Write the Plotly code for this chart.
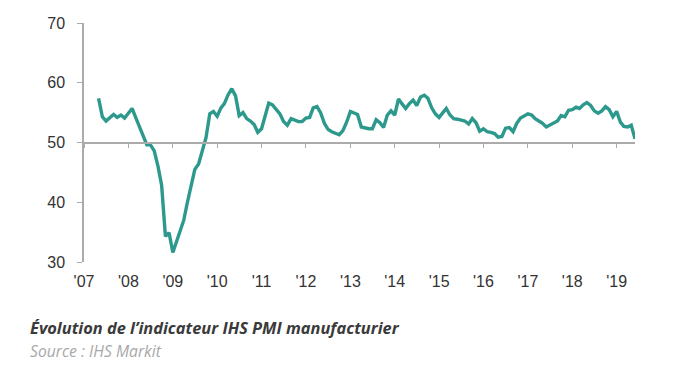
import pandas as pd
import plotly.graph_objects as go

# Monthly PMI values, May 2007 - June 2019
start_month = "2007-05-01"
pmi_2007 = [57.4, 54.3, 53.6, 54.1, 54.7, 54.2, 54.6, 54.1]
pmi_2008 = [54.8, 55.7, 54.2, 52.6, 51.4, 49.6, 49.6, 48.6, 46.0, 42.8, 34.3, 34.9]
pmi_2009 = [31.6, 33.5, 35.3, 37.0, 40.0, 42.8, 45.5, 46.4, 48.6, 50.8, 54.8, 55.2]
pmi_2010 = [54.4, 55.8, 56.5, 58.0, 59.0, 57.8, 54.5, 55.0, 54.0, 53.6, 53.0, 51.7]
pmi_2011 = [52.3, 54.6, 56.6, 56.3, 55.6, 54.8, 53.5, 52.9, 54.0, 53.8, 53.5, 53.5]
pmi_2012 = [54.1, 54.2, 55.8, 56.0, 55.0, 53.2, 52.2, 51.8, 51.5, 51.3, 52.0, 53.4]
pmi_2013 = [55.2, 55.0, 54.7, 52.6, 52.4, 52.3, 52.3, 53.8, 53.3, 52.5, 54.6, 55.3]
pmi_2014 = [54.6, 57.3, 56.5, 55.7, 56.5, 57.1, 56.2, 57.6, 57.9, 57.4, 55.8, 54.8]
pmi_2015 = [54.2, 55.0, 55.7, 54.6, 54.0, 53.9, 53.8, 53.6, 53.1, 54.0, 53.3, 51.9]
pmi_2016 = [52.3, 51.8, 51.7, 51.5, 50.9, 51.0, 52.4, 52.5, 51.8, 53.2, 54.1, 54.4]
pmi_2017 = [54.8, 54.6, 54.0, 53.6, 53.2, 52.6, 52.9, 53.2, 53.6, 54.5, 54.3, 55.4]
pmi_2018 = [55.5, 55.9, 55.7, 56.3, 56.7, 56.2, 55.3, 54.9, 55.3, 56.0, 55.5, 54.3]
pmi_2019 = [55.2, 53.4, 52.7, 52.6, 52.9, 50.6]

years = list(range(2007, 2020))
tick_labels = ["'07", "'08", "'09", "'10", "'11", "'12", "'13", "'14", "'15",
               "'16", "'17", "'18", "'19"]
y_ticks = [30, 40, 50, 60, 70]

title_text = "Évolution de l’indicateur IHS PMI manufacturier"
source_text = "Source : IHS Markit"

values = (pmi_2007 + pmi_2008 + pmi_2009 + pmi_2010 + pmi_2011 + pmi_2012 +
          pmi_2013 + pmi_2014 + pmi_2015 + pmi_2016 + pmi_2017 + pmi_2018 + pmi_2019)
dates = pd.date_range(start_month, periods=len(values), freq="MS")
tick_dates = [f"{y}-01-01" for y in years]
x_range = ["2007-01-01", str(dates[-1].date())]

TEAL = "#2c998c"
AXIS = "#ababab"
LABEL = "#333333"

fig = go.Figure()
fig.add_trace(go.Scatter(x=dates, y=values, mode="lines",
                         line=dict(color=TEAL, width=3.4), xaxis="x2",
                         hoverinfo="x+y", showlegend=False))
# invisible trace to carry the bottom label axis
fig.add_trace(go.Scatter(x=dates, y=values, mode="lines", line=dict(width=0),
                         opacity=0, xaxis="x", hoverinfo="skip", showlegend=False))

fig.update_layout(
    width=684, height=374,
    margin=dict(l=76, r=57, t=15, b=120),
    paper_bgcolor="white", plot_bgcolor="white",
    font=dict(family="Liberation Sans, Arial, sans-serif", color=LABEL, size=16),
    xaxis=dict(range=x_range, tickmode="array", tickvals=tick_dates,
               ticktext=tick_labels, showline=False, showgrid=False,
               zeroline=False, ticks="", ticklabelstandoff=8, automargin=False,
               tickfont=dict(size=16, color=LABEL)),
    xaxis2=dict(range=x_range, overlaying="x", anchor="free", position=0.5,
                side="bottom", tickmode="array", tickvals=tick_dates,
                showticklabels=False, showline=True, linecolor=AXIS, linewidth=1.5,
                ticks="outside", ticklen=5, tickcolor=AXIS, tickwidth=1,
                showgrid=False, zeroline=False, automargin=False),
    yaxis=dict(range=[30, 70], tickmode="array", tickvals=y_ticks,
               showline=True, linecolor=AXIS, linewidth=1.5,
               ticks="outside", ticklen=5, tickcolor=AXIS, tickwidth=1,
               showgrid=False, zeroline=False, ticklabelstandoff=9,
               automargin=False, tickfont=dict(size=16, color=LABEL)),
    annotations=[
        dict(text=f"<b><i>{title_text}</i></b>", xref="paper", yref="paper",
             x=-0.102, y=-0.276, xanchor="left", yanchor="middle", showarrow=False,
             font=dict(family="Open Sans, sans-serif", size=16.4, color="#3a3a3a")),
        dict(text=f"<i>{source_text}</i>", xref="paper", yref="paper",
             x=-0.102, y=-0.372, xanchor="left", yanchor="middle", showarrow=False,
             font=dict(family="Open Sans, sans-serif", size=15.7, color="#a8a8a8")),
    ],
)

fig.write_html("out.html")
